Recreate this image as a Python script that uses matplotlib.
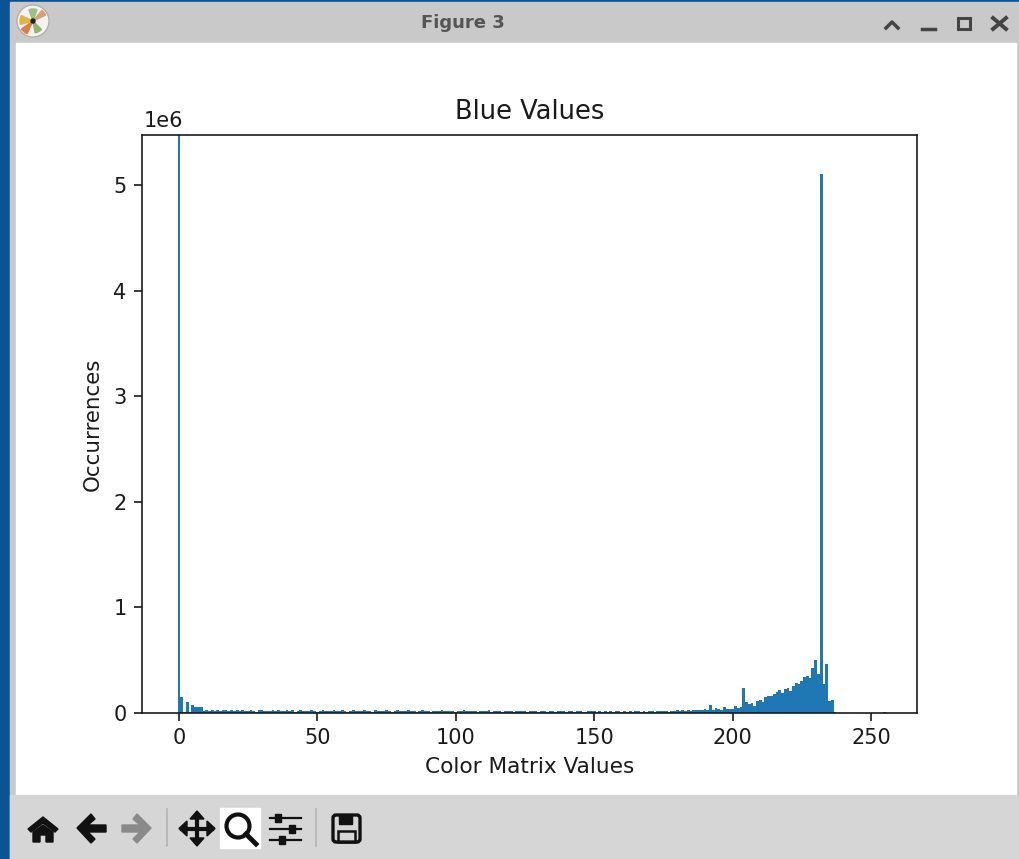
import matplotlib
matplotlib.use('Agg')
import matplotlib.pyplot as plt
from matplotlib.patches import Rectangle, Polygon, Circle, Wedge, FancyBboxPatch

# occurrences per colour value, 0 to 255
values_start = [6200000, 150000, 12000, 105000, 8000, 75000, 60000, 60000, 55000, 22000,
                28000, 20000, 25000, 22000, 30000, 18000, 26000, 24000, 22000, 28000]
values_flat = [20000, 25000, 16000, 24000, 22000, 18000, 28000, 20000, 14000, 24000,
               26000, 18000, 22000, 15000, 27000, 20000, 24000, 17000, 22000, 26000,
               18000, 24000, 14000, 21000, 27000, 19000, 23000, 16000, 25000, 20000,
               13000, 22000, 26000, 18000, 21000, 15000, 24000, 20000, 17000, 25000,
               19000, 14000, 23000, 27000, 17000, 21000, 15000, 24000, 19000, 22000,
               14000, 26000, 18000, 21000, 16000, 24000, 20000, 13000, 23000, 25000,
               17000, 20000, 15000, 24000, 19000, 22000, 13000, 21000, 25000, 17000,
               20000, 14000, 23000, 18000, 21000, 26000, 15000, 19000, 23000, 17000,
               13000, 22000, 18000, 24000, 15000, 20000, 17000, 23000, 14000, 19000,
               21000, 16000, 24000, 13000, 20000, 18000, 22000, 14000, 19000, 23000,
               16000, 12000, 21000, 18000, 15000, 22000, 13000, 19000, 17000, 21000,
               12000, 18000, 20000, 14000, 16000, 22000, 12000, 18000, 15000, 20000,
               13000, 17000, 19000, 11000, 16000, 21000, 14000, 12000, 18000, 15000,
               20000, 11000, 17000, 14000, 19000, 12000, 16000, 13000, 18000, 15000,
               12000, 19000, 14000, 17000, 13000, 16000, 20000, 12000, 18000, 14000,
               17000, 21000, 13000, 19000, 15000, 22000, 16000, 14000, 20000, 15000,
               24000, 18000, 28000, 20000, 32000, 22000, 26000, 30000, 24000]
values_rise = [26000, 40000, 28000, 75000, 32000, 48000, 38000, 30000, 55000, 42000,
               35000, 35000, 62000, 48000, 60000, 240000, 105000, 85000, 95000, 70000,
               115000, 125000, 100000, 150000, 160000, 165000, 180000, 195000, 215000, 190000,
               225000, 240000, 210000, 255000, 285000, 275000, 300000, 345000, 350000, 330000,
               430000, 500000, 365000, 5100000, 270000, 460000, 110000, 120000, 12000, 3000]
values_end = [1000, 800, 600, 500, 800, 1200, 1000, 800, 1500, 2000, 1000, 800, 600, 1000, 1500, 3000, 9000]

color_values = list(range(256))
occurrences = values_start + values_flat + values_rise + values_end
tick_values = [0, 50, 100, 150, 200, 250]
count_ticks = [0, 1000000, 2000000, 3000000, 4000000, 5000000]

W, H = 1019, 859
fig = plt.figure(figsize=(W / 100, H / 100), dpi=100, facecolor='white')

# window frame behind the plot
bg = fig.add_axes([0, 0, 1, 1], zorder=0)
bg.set_xlim(0, W)
bg.set_ylim(H, 0)
bg.axis('off')
bg.add_patch(Rectangle((0, 0), W, H, color='#0b5394'))
bg.add_patch(Rectangle((10, 2), W - 10, H, color='#c9c9c9'))
bg.add_patch(Rectangle((16, 43), 1000, 752, color='white'))
bg.add_patch(Rectangle((10, 795), W - 10, 64, color='#d6d6d6'))

# app icon
bg.add_patch(Circle((33, 21), 16, color='#f4f4f0', ec='#b0b0b0', lw=1))
bg.add_patch(Wedge((33, 21), 14, 115, 145, color='#d9814a'))
bg.add_patch(Wedge((33, 21), 13, 165, 205, color='#e3b341'))
bg.add_patch(Wedge((33, 21), 14, 310, 335, color='#d9a07a'))
bg.add_patch(Wedge((33, 21), 12, 45, 80, color='#8fb56f'))
bg.add_patch(Wedge((33, 21), 12, 250, 290, color='#9cc08a'))
bg.add_patch(Circle((33, 21), 2, color='#222222'))
bg.text(463, 23, 'Figure 3', ha='center', va='center', fontsize=13, color='#555555',
        family='DejaVu Sans', weight='bold')

# window buttons
bg.plot([886, 892, 898], [28, 22, 28], color='#444444', lw=2.5)
bg.plot([922, 935], [29, 29], color='#444444', lw=2.5)
bg.add_patch(Rectangle((958, 18), 12, 11, fill=False, ec='#444444', lw=2.2))
bg.plot([993, 1006], [18, 29], color='#444444', lw=2.8)
bg.plot([993, 1006], [29, 18], color='#444444', lw=2.8)

# toolbar icons
k = '#111111'
bg.add_patch(Polygon([(28, 829), (43, 817), (58, 829), (55, 832), (43, 823), (31, 832)], color=k))
bg.add_patch(Polygon([(33, 832), (43, 825), (53, 832), (53, 842), (46, 842), (46, 835), (40, 835), (40, 842), (33, 842)], color=k))
bg.add_patch(Polygon([(77, 828), (91, 814), (95, 819), (88, 825), (106, 825), (106, 832), (88, 832), (95, 839), (91, 843)], color=k))
bg.add_patch(Polygon([(151, 828), (137, 814), (133, 819), (140, 825), (122, 825), (122, 832), (140, 832), (133, 839), (137, 843)], color='#8a8a8a'))
bg.plot([167, 167], [809, 846], color='#b4b4b4', lw=1.2)
bg.plot([197, 197], [815, 842], color=k, lw=3)
bg.plot([182, 212], [828.5, 828.5], color=k, lw=3)
bg.add_patch(Polygon([(197, 811), (190, 819), (204, 819)], color=k))
bg.add_patch(Polygon([(197, 846), (190, 838), (204, 838)], color=k))
bg.add_patch(Polygon([(179, 828.5), (187, 821), (187, 836)], color=k))
bg.add_patch(Polygon([(215, 828.5), (207, 821), (207, 836)], color=k))
bg.add_patch(Rectangle((220, 808), 40, 40, color='white'))
bg.add_patch(Circle((238, 826), 11.5, fill=False, ec=k, lw=3))
bg.plot([246, 256], [834, 844], color=k, lw=3.5)
for y, x in [(818, 278), (829, 292), (840, 282)]:
    bg.plot([270, 301], [y, y], color=k, lw=1.6)
    bg.add_patch(Rectangle((x - 3, y - 4), 6, 8, color=k))
bg.plot([316, 316], [809, 846], color='#b4b4b4', lw=1.2)
bg.add_patch(FancyBboxPatch((333, 815), 27, 27, boxstyle='round,pad=0,rounding_size=3', fill=False, ec=k, lw=2.4))
bg.add_patch(Rectangle((339, 815), 13, 9, color=k))
bg.add_patch(Rectangle((338, 831), 17, 11, fill=False, ec=k, lw=1.8))

# the chart
ax = fig.add_axes([142 / W, 1 - 713 / H, 775 / W, 578 / H], zorder=1)
bar_widths = [0.5 if v == 0 else 1.0 for v in color_values]
ax.bar(color_values, occurrences, width=bar_widths, color='#1f77b4')
ax.set_xlim((142 - 179) / 2.768, (917 - 179) / 2.768)
ax.set_ylim(0, 578 / 105.6 * 1e6)
ax.set_xticks(tick_values)
ax.set_yticks(count_ticks)
ax.tick_params(labelsize=15, length=5.5, width=1.2, pad=5.5, colors='#1a1a1a')
for s in ax.spines.values():
    s.set_linewidth(1.2)
    s.set_color('#1a1a1a')
ax.yaxis.OFFSETTEXTPAD = 5.9
ax.yaxis.get_offset_text().set_x(2 / 775)
ax.yaxis.get_offset_text().set_fontsize(15)
ax.yaxis.get_offset_text().set_color('#1a1a1a')
ax.set_title('Blue Values', fontsize=18.5, pad=11.2, color='#1a1a1a')
ax.set_xlabel('Color Matrix Values', fontsize=15.6, labelpad=6, color='#1a1a1a')
ax.set_ylabel('Occurrences', fontsize=15.4, labelpad=7.5, color='#1a1a1a')

fig.savefig('out.png', dpi=100)
